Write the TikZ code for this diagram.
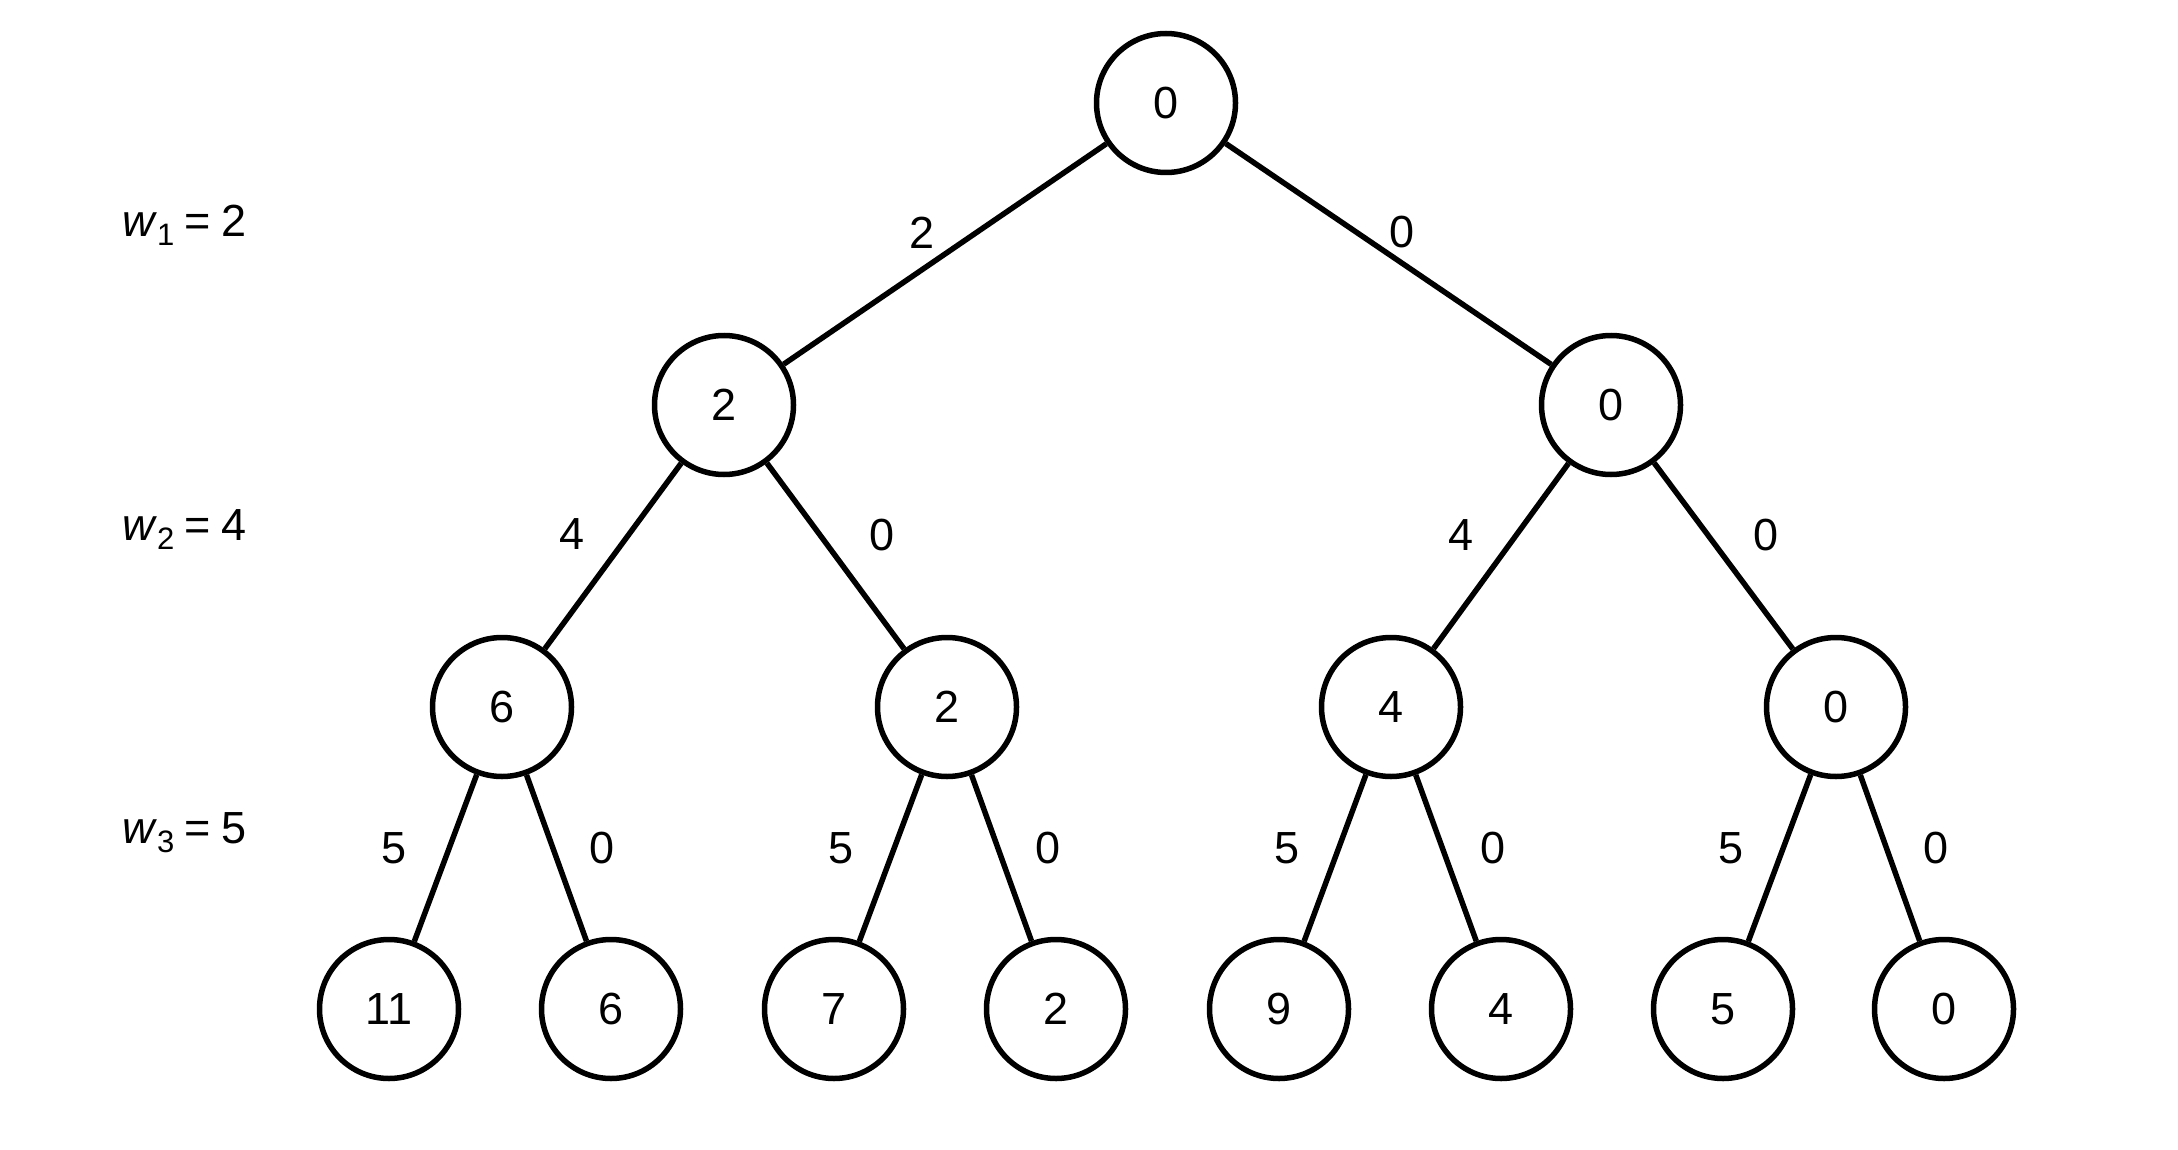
\documentclass[tikz,border=0pt]{standalone}
\usepackage{fontspec}
\setmainfont{Liberation Sans}
\begin{document}
\begin{tikzpicture}[x=1pt,y=-1pt,
  every node/.style={font=\fontsize{45}{54}\selectfont},
  vert/.style={circle,draw,line width=5.5pt,minimum size=139pt,inner sep=0pt},
  edge/.style={line width=5.5pt},
  lbl/.style={inner sep=0pt,midway}]
\useasboundingbox (0,0) rectangle (2178,1150);
% levels
\node[vert] (r) at (1166,103) {0};
\node[vert] (a) at (724,405) {2};
\node[vert] (b) at (1611,405) {0};
\node[vert] (c) at (502,707) {6};
\node[vert] (d) at (947,707) {2};
\node[vert] (e) at (1391,707) {4};
\node[vert] (f) at (1836,707) {0};
\node[vert] (l1) at (389,1009) {11};
\node[vert] (l2) at (611,1009) {6};
\node[vert] (l3) at (834,1009) {7};
\node[vert] (l4) at (1056,1009) {2};
\node[vert] (l5) at (1279,1009) {9};
\node[vert] (l6) at (1501,1009) {4};
\node[vert] (l7) at (1723,1009) {5};
\node[vert] (l8) at (1944,1009) {0};
% edges
\draw[edge] (r) -- node[lbl,xshift=-23pt,yshift=21pt]{2} (a);
\draw[edge] (r) -- node[lbl,xshift=13pt,yshift=22pt]{0} (b);
\draw[edge] (a) -- node[lbl,xshift=-41pt,yshift=22pt]{4} (c);
\draw[edge] (a) -- node[lbl,xshift=47pt,yshift=21pt]{0} (d);
\draw[edge] (b) -- node[lbl,xshift=-40pt,yshift=21pt]{4} (e);
\draw[edge] (b) -- node[lbl,xshift=42pt,yshift=21pt]{0} (f);
\draw[edge] (c) -- node[lbl,xshift=-51pt,yshift=10pt]{5} (l1);
\draw[edge] (c) -- node[lbl,xshift=46pt,yshift=10pt]{0} (l2);
\draw[edge] (d) -- node[lbl,xshift=-49pt,yshift=10pt]{5} (l3);
\draw[edge] (d) -- node[lbl,xshift=46pt,yshift=10pt]{0} (l4);
\draw[edge] (e) -- node[lbl,xshift=-48pt,yshift=10pt]{5} (l5);
\draw[edge] (e) -- node[lbl,xshift=47pt,yshift=10pt]{0} (l6);
\draw[edge] (f) -- node[lbl,xshift=-49pt,yshift=10pt]{5} (l7);
\draw[edge] (f) -- node[lbl,xshift=46pt,yshift=10pt]{0} (l8);
% weights
\node[anchor=base west,inner sep=0pt] (w1) at (122,237) {\textit{w}\raisebox{-0.2em}{\fontsize{31}{31}\selectfont 1}\hspace{10pt}=\hspace{11pt}2};
\node[anchor=base west,inner sep=0pt] (w2) at (122,540) {\textit{w}\raisebox{-0.2em}{\fontsize{31}{31}\selectfont 2}\hspace{10pt}=\hspace{11pt}4};
\node[anchor=base west,inner sep=0pt] (w3) at (122,843) {\textit{w}\raisebox{-0.2em}{\fontsize{31}{31}\selectfont 3}\hspace{10pt}=\hspace{11pt}5};
\end{tikzpicture}
\end{document}
